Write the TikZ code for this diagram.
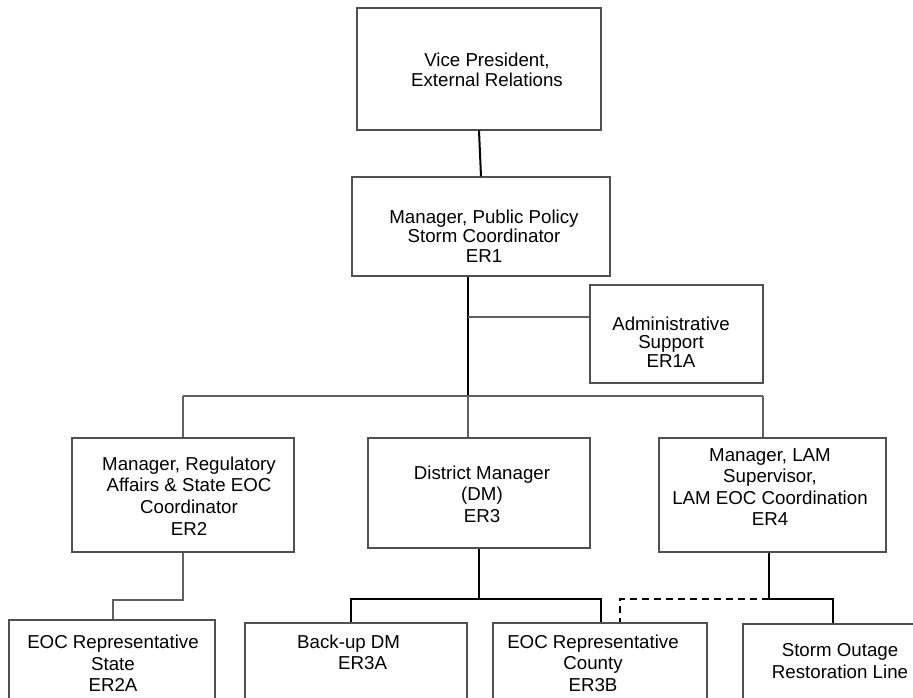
\documentclass[tikz,border=0pt]{standalone}
\usepackage{fontspec}
\setmainfont{Liberation Sans}
\usetikzlibrary{calc}
\definecolor{boxgray}{HTML}{505050}
\definecolor{linegray}{HTML}{606060}
\begin{document}
\begin{tikzpicture}[x=1pt,y=-1pt,
  box/.style={draw=boxgray, line width=1.2pt, rectangle, inner sep=0pt},
  lbl/.style={inner sep=0pt, align=center, font=\fontsize{18.7}{21.6}\selectfont},
  tight/.style={font=\fontsize{18.7}{19.5}\selectfont},
  thinline/.style={draw=linegray, line width=1.2pt},
  heavyline/.style={draw=black, line width=2pt},
  dotted link/.style={draw=black, line width=2pt, dash pattern=on 7pt off 5pt}]

\clip (0,0) rectangle (913,698);
\fill[white] (0,0) rectangle (913,698);

% boxes
\node[box, minimum width=244pt, minimum height=122pt] (vp)   at (479,69)    {};
\node[box, minimum width=258pt, minimum height=99pt]  (er1)  at (481,226.5) {};
\node[box, minimum width=173pt, minimum height=98pt]  (adm)  at (676.5,334) {};
\node[box, minimum width=222pt, minimum height=114pt] (er2)  at (183,495)   {};
\node[box, minimum width=222pt, minimum height=110pt] (er3)  at (479,493)   {};
\node[box, minimum width=227pt, minimum height=114pt] (er4)  at (772.5,495) {};
\node[box, minimum width=206pt, minimum height=100pt] (er2a) at (112,670)   {};
\node[box, minimum width=222pt, minimum height=97pt]  (er3a) at (356,671.5) {};
\node[box, minimum width=214pt, minimum height=97pt]  (er3b) at (600,671.5) {};
\node[box, minimum width=187pt, minimum height=96pt]  (sto)  at (836.5,672) {};

% box texts
\node[lbl, font=\fontsize{18.7}{20}\selectfont] (vpT) at (487,70) {Vice President,\\External Relations};
\node[lbl, tight] (er1T) at (484,236) {Manager, Public Policy\\Storm Coordinator\\ER1};
\node[lbl, font=\fontsize{18.7}{18.7}\selectfont] (admT) at (671,342) {Administrative\\Support\\ER1A};
\node[lbl] (er2T) at (189,496) {Manager, Regulatory\\Affairs \& State EOC\\Coordinator\\ER2};
\node[lbl] (er3T) at (482,494) {District Manager\\(DM)\\ER3};
\node[lbl] (er4T) at (770,487) {Manager, LAM\\Supervisor,\\LAM EOC Coordination\\ER4};
\node[lbl] (er2aT) at (113,663.5) {EOC Representative\\State\\ER2A};
\node[lbl, align=left, anchor=west] (er3aT) at (297,652.5) {Back-up DM\\\hspace*{41pt}ER3A};
\node[lbl] (er3bT) at (593,663) {EOC Representative\\County\\ER3B};
\node[lbl] (stoT) at (840,661) {Storm Outage\\Restoration Line};

% junction points
\coordinate (bus)  at (468,396);
\coordinate (admJ) at (468,317);
\coordinate (b2)   at (183,396);
\coordinate (b4)   at (763,396);
\coordinate (k2)   at (183,600);
\coordinate (k2a)  at (113,600);
\coordinate (j3)   at (479,599);
\coordinate (j3a)  at (351,599);
\coordinate (j3b)  at (601,599);
\coordinate (j4)   at (769,599);
\coordinate (j4s)  at (833,599);
\coordinate (d3)   at (620,599);

% reporting lines
\draw[heavyline] (vp.south) -- (er1.north);
\draw[heavyline] (er1.south -| bus) -- (bus);
\draw[thinline] (admJ) -- (admJ -| adm.west);
\draw[thinline] (b2) -- (b4);
\draw[thinline] (b2) -- (b2 |- er2.north);
\draw[thinline] (bus) -- (bus |- er3.north);
\draw[thinline] (b4) -- (b4 |- er4.north);
\draw[thinline] (er2.south) -- (k2) -- (k2a) -- (k2a |- er2a.north);
\draw[heavyline] (er3.south) -- (j3);
\draw[heavyline] (j3a |- er3a.north) -- (j3a) -- (j3b) -- (j3b |- er3b.north);
\draw[heavyline] (j4 |- er4.south) -- (j4) -- (j4s) -- (j4s |- sto.north);
\draw[dotted link] (j4) -- (d3) -- (d3 |- er3b.north);
\end{tikzpicture}
\end{document}
